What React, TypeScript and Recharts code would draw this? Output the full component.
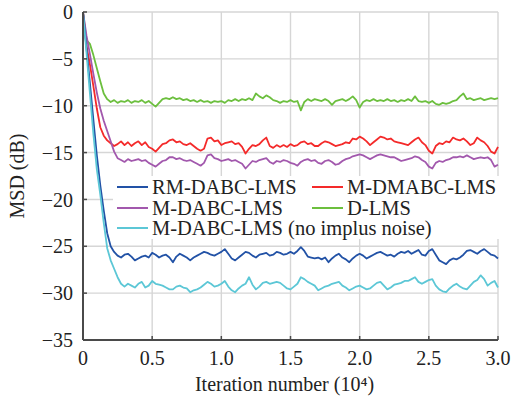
import React from 'react';
import { LineChart, Line, XAxis, YAxis, CartesianGrid, Legend } from 'recharts';

// iteration axis is in units of 10^4, one sample every 0.025
const STEP = 0.025;

// MSD (dB), 8 samples per 0.2 on the x axis
const dLms = [
  0, -3.0, -3.4, -4.6, -6.0, -7.4, -8.7, -9.3,
  -9.6, -9.4, -9.7, -9.5, -9.6, -9.4, -9.7, -9.5,
  -9.6, -9.4, -9.7, -9.5, -9.8, -10.1, -9.7, -9.3,
  -9.2, -9.3, -9.1, -9.3, -9.2, -9.4, -9.3, -9.5,
  -9.4, -9.6, -9.4, -9.6, -9.5, -9.7, -9.5, -9.6,
  -9.5, -9.7, -9.4, -9.5, -9.3, -9.5, -9.3, -9.4,
  -9.2, -9.4, -8.7, -9.0, -9.2, -8.9, -9.1, -9.4,
  -9.5, -9.7, -9.5, -9.6, -9.4, -9.6, -9.5, -10.5,
  -9.6, -9.3, -9.5, -9.3, -9.4, -9.5, -9.3, -9.5,
  -9.9, -9.5, -9.4, -9.3, -9.5, -9.3, -9.0, -9.4,
  -10.2, -9.6, -9.4, -9.5, -9.3, -9.5, -9.4, -9.5,
  -9.3, -9.5, -9.4, -9.6, -9.4, -9.5, -9.3, -9.5,
  -9.0, -9.5, -9.6, -9.5, -9.7, -9.5, -9.8, -9.9,
  -9.7, -9.8, -9.7, -9.5, -9.4, -9.0, -8.7, -9.3,
  -9.2, -9.4, -9.3, -9.2, -9.4, -9.3, -9.2, -9.3,
  -9.2,
];

const mDmabc = [
  0, -3.6, -5.6, -7.9, -10.3, -12.3, -13.2, -13.7,
  -14.0, -14.3, -14.1, -13.8, -14.2, -13.9, -14.3, -14.0,
  -13.8, -14.2, -13.9, -14.4, -14.6, -14.9, -14.5, -14.1,
  -14.0, -13.7, -13.6, -13.9, -13.8, -14.1, -14.2, -14.0,
  -14.3, -14.6, -14.8, -14.6, -13.5, -13.4, -13.8, -13.7,
  -14.2, -14.0, -13.9, -13.8, -14.1, -14.0, -14.4, -15.1,
  -14.6, -14.2, -14.3, -14.1, -13.7, -13.4, -14.3, -14.5,
  -14.2, -14.4, -14.2, -14.4, -14.1, -14.3, -14.2, -13.9,
  -13.8, -14.1, -14.0, -14.3, -14.3, -14.0, -13.8, -13.9,
  -14.1, -14.3, -14.2, -14.1, -13.9, -14.0, -13.5, -13.6,
  -13.3, -13.5, -13.8, -14.2, -13.9, -13.6, -13.3, -13.4,
  -13.6, -13.5, -13.8, -13.9, -14.0, -14.1, -14.2, -13.9,
  -13.6, -13.4, -13.9, -14.2, -14.8, -15.1, -14.3, -14.0,
  -14.1, -13.8, -13.9, -13.4, -13.6, -13.7, -13.5, -13.8,
  -14.2, -14.0, -13.4, -13.7, -13.9, -14.3, -14.9, -15.1,
  -14.4,
];

const mDabc = [
  0, -2.5, -4.5, -6.6, -8.6, -10.3, -11.6, -12.7,
  -13.8, -14.9, -15.6, -15.8, -16.0, -15.7, -15.9, -15.8,
  -15.7, -15.9, -15.8, -16.1, -16.3, -16.5, -16.2, -15.9,
  -15.8, -15.5, -15.5, -15.7, -15.6, -15.8, -15.9, -15.8,
  -16.0, -16.2, -16.4, -16.1, -15.3, -15.2, -15.6, -15.7,
  -15.9, -15.8, -15.7, -15.9, -15.8, -16.0, -16.2, -16.7,
  -16.3, -15.9, -16.0, -15.8, -15.7, -15.6, -16.0, -16.2,
  -15.9, -16.0, -15.8, -15.9, -16.1, -16.2, -16.4, -16.0,
  -15.8, -15.7, -15.9, -15.8, -16.1, -16.2, -15.9, -15.8,
  -16.0, -16.3, -16.2, -15.9, -15.7, -15.6, -15.4, -15.3,
  -15.2, -15.3, -15.5, -15.7, -15.5, -15.3, -15.2, -15.3,
  -15.4, -15.5, -15.5, -15.7, -15.9, -15.8, -15.7, -15.6,
  -15.4, -15.5, -15.8, -16.0, -16.5, -16.7, -16.1, -15.9,
  -16.0, -15.8, -15.7, -15.5, -15.5, -15.4, -15.5, -15.3,
  -15.5, -15.7, -15.6, -15.5, -15.6, -15.5, -15.8, -16.5,
  -16.3,
];

const rmDabc = [
  0, -3.8, -7.6, -11.5, -15.3, -18.5, -21.2, -23.6,
  -25.0, -25.6, -26.0, -26.2, -25.9, -25.8, -26.1, -26.5,
  -26.3, -26.1, -26.0, -26.2, -25.7, -25.9, -26.2, -26.0,
  -25.9, -26.2, -26.7, -26.1, -25.8, -26.0, -26.2, -26.5,
  -26.2, -26.0, -25.8, -25.6, -25.7, -25.9, -26.0, -25.8,
  -25.6, -25.3, -25.8, -26.3, -26.5, -26.2, -25.9, -25.6,
  -25.7, -26.0, -26.2, -25.9, -25.8, -25.7, -26.0, -25.9,
  -25.6, -25.7, -25.9, -25.8, -25.6, -25.8, -25.5, -25.1,
  -25.5, -26.1, -26.2, -26.3, -26.2, -26.4, -26.2, -26.7,
  -26.3, -26.0, -25.8, -26.2, -26.4, -26.7, -26.3, -26.0,
  -25.8, -26.0, -26.3, -26.1, -25.9, -25.7, -25.6, -25.8,
  -26.0, -25.9, -26.1, -25.8, -25.6, -25.7, -25.5, -25.8,
  -25.6, -25.4, -25.9, -26.0, -25.5, -25.3, -25.9, -26.5,
  -26.7, -26.9, -26.5, -26.3, -26.4, -26.2, -25.9, -25.5,
  -25.4, -25.6, -25.8, -25.5, -25.3, -25.6, -25.9, -26.0,
  -26.3,
];

const mDabcClean = [
  0, -4.3, -8.7, -13.0, -16.8, -19.5, -22.5, -25.2,
  -26.5, -27.4, -28.3, -29.0, -29.3, -29.0, -29.2, -29.4,
  -29.0, -28.8, -29.4, -29.2, -28.7, -29.0, -29.1, -29.2,
  -29.4, -29.6, -29.6, -29.3, -29.2, -29.4, -29.5, -29.9,
  -29.7, -29.6, -29.4, -29.1, -28.8, -29.0, -29.3, -29.2,
  -29.0, -28.7, -29.3, -29.7, -29.9, -29.5, -29.2, -29.0,
  -28.3, -29.1, -29.6, -29.3, -28.9, -28.8, -29.0, -28.9,
  -28.8, -28.9, -29.2, -29.5, -29.6, -29.3, -29.0, -28.3,
  -28.5, -28.8, -29.0, -29.2, -29.7, -29.5, -29.3, -29.2,
  -29.0, -28.9, -28.8, -29.2, -29.4, -29.7, -29.5, -29.3,
  -29.2, -29.4, -29.6, -29.5, -29.2, -28.9, -28.8, -29.2,
  -29.6, -29.4, -29.1, -29.0, -28.9, -28.7, -28.7, -28.5,
  -28.3, -28.8, -29.0, -28.8, -28.6, -28.5, -29.2, -29.6,
  -29.8, -29.9, -29.5, -29.2, -29.0, -29.3, -29.5, -29.6,
  -29.2, -28.8, -28.6, -28.1, -28.5, -29.2, -28.9, -28.7,
  -29.4,
];

const xTicks = [0, 0.5, 1, 1.5, 2, 2.5, 3];
const yTicks = [0, -5, -10, -15, -20, -25, -30, -35];

// legend order follows the figure: two columns, last entry on its own row
const series = [
  { key: 'rm', name: 'RM-DABC-LMS', color: '#2252a6', values: rmDabc },
  { key: 'mdm', name: 'M-DMABC-LMS', color: '#f42a2a', values: mDmabc },
  { key: 'md', name: 'M-DABC-LMS', color: '#a258ad', values: mDabc },
  { key: 'd', name: 'D-LMS', color: '#6cbf3e', values: dLms },
  { key: 'clean', name: 'M-DABC-LMS (no implus noise)', color: '#5cc7d6', values: mDabcClean },
];

// draw order: green at the back, cyan on top
const drawOrder = ['d', 'mdm', 'md', 'rm', 'clean'];

const data = dLms.map((_, i) => {
  const row: Record<string, number> = { x: i * STEP };
  series.forEach((s) => {
    row[s.key] = s.values[i];
  });
  return row;
});

const FONT = '"Liberation Serif", "Times New Roman", serif';
const AXIS = '#4a4a4a';

const fmtX = (v: number) => (v === 0 ? '0' : v.toFixed(1));
const fmtY = (v: number) => (v === 0 ? '0' : `\u2212${Math.abs(v)}`);

const LegendBox = () => (
  <div
    style={{
      background: '#fff',
      display: 'grid',
      gridTemplateColumns: '195px auto',
      fontFamily: FONT,
      fontSize: 20.5,
      lineHeight: '20.5px',
      color: '#222',
      paddingTop: 1,
    }}
  >
    {series.map((s) => (
      <div
        key={s.key}
        style={{
          display: 'flex',
          alignItems: 'center',
          paddingLeft: 4,
          whiteSpace: 'nowrap',
          gridColumn: s.key === 'clean' ? '1 / span 2' : undefined,
        }}
      >
        <span style={{ display: 'inline-block', width: 31, height: 2, background: s.color, marginRight: 4 }} />
        <span>{s.name}</span>
      </div>
    ))}
  </div>
);

const App: React.FC = () => {
  return (
    <div style={{ position: 'absolute', left: 0, top: 0, width: 513, height: 399, background: '#fff', fontFamily: FONT }}>
      <LineChart
        width={513}
        height={399}
        data={data}
        margin={{ top: 12, right: 15, left: 17, bottom: 7 }}
        style={{ fontFamily: FONT }}
      >
        <CartesianGrid stroke="#d6d6d6" strokeWidth={1.4} horizontalValues={yTicks} verticalValues={xTicks} />
        <XAxis
          dataKey="x"
          type="number"
          domain={[0, 3]}
          ticks={xTicks}
          tickFormatter={fmtX}
          height={52}
          tickSize={-4}
          tickMargin={15}
          tick={{ fontSize: 20, fill: '#222', fontFamily: FONT }}
          axisLine={{ stroke: AXIS, strokeWidth: 2 }}
          tickLine={{ stroke: AXIS, strokeWidth: 1.5 }}
          label={{
            content: (props: any) => {
              const vb = props.viewBox;
              return (
                <text x={vb.x + vb.width / 2 - 6} y={vb.y + vb.height - 1} textAnchor="middle" fontSize={20} fill="#222" fontFamily={FONT}>
                  Iteration number (10{'\u2074'})
                </text>
              );
            },
          }}
        />
        <XAxis xAxisId="top" dataKey="x" type="number" domain={[0, 3]} orientation="top" height={0} tick={false} tickLine={false} axisLine={{ stroke: AXIS, strokeWidth: 1.3 }} />
        <YAxis
          type="number"
          domain={[-35, 0]}
          ticks={yTicks}
          tickFormatter={fmtY}
          width={66}
          tickSize={-4}
          tickMargin={14}
          tick={{ fontSize: 20, fill: '#222', fontFamily: FONT }}
          axisLine={{ stroke: AXIS, strokeWidth: 2 }}
          tickLine={{ stroke: AXIS, strokeWidth: 1.5 }}
          label={{
            content: (props: any) => {
              const vb = props.viewBox;
              const cx = vb.x;
              const cy = vb.y + vb.height / 2;
              return (
                <text x={cx} y={cy} transform={`rotate(-90 ${cx} ${cy})`} textAnchor="middle" dominantBaseline="central" fontSize={20} fill="#222" fontFamily={FONT}>
                  MSD (dB)
                </text>
              );
            },
          }}
        />
        <YAxis yAxisId="right" type="number" domain={[-35, 0]} orientation="right" width={0} tick={false} tickLine={false} axisLine={{ stroke: AXIS, strokeWidth: 1.3 }} />
        {drawOrder.map((k) => {
          const s = series.find((d) => d.key === k)!;
          return (
            <Line
              key={s.key}
              type="linear"
              dataKey={s.key}
              name={s.name}
              stroke={s.color}
              strokeWidth={1.8}
              strokeLinejoin="round"
              dot={false}
              isAnimationActive={false}
            />
          );
        })}
        <Legend
          layout="horizontal"
          verticalAlign="middle"
          align="center"
          width={386}
          content={() => <LegendBox />}
          wrapperStyle={{ left: 113, top: 176, width: 386, height: 64 }}
        />
      </LineChart>
    </div>
  );
};

export default App;
